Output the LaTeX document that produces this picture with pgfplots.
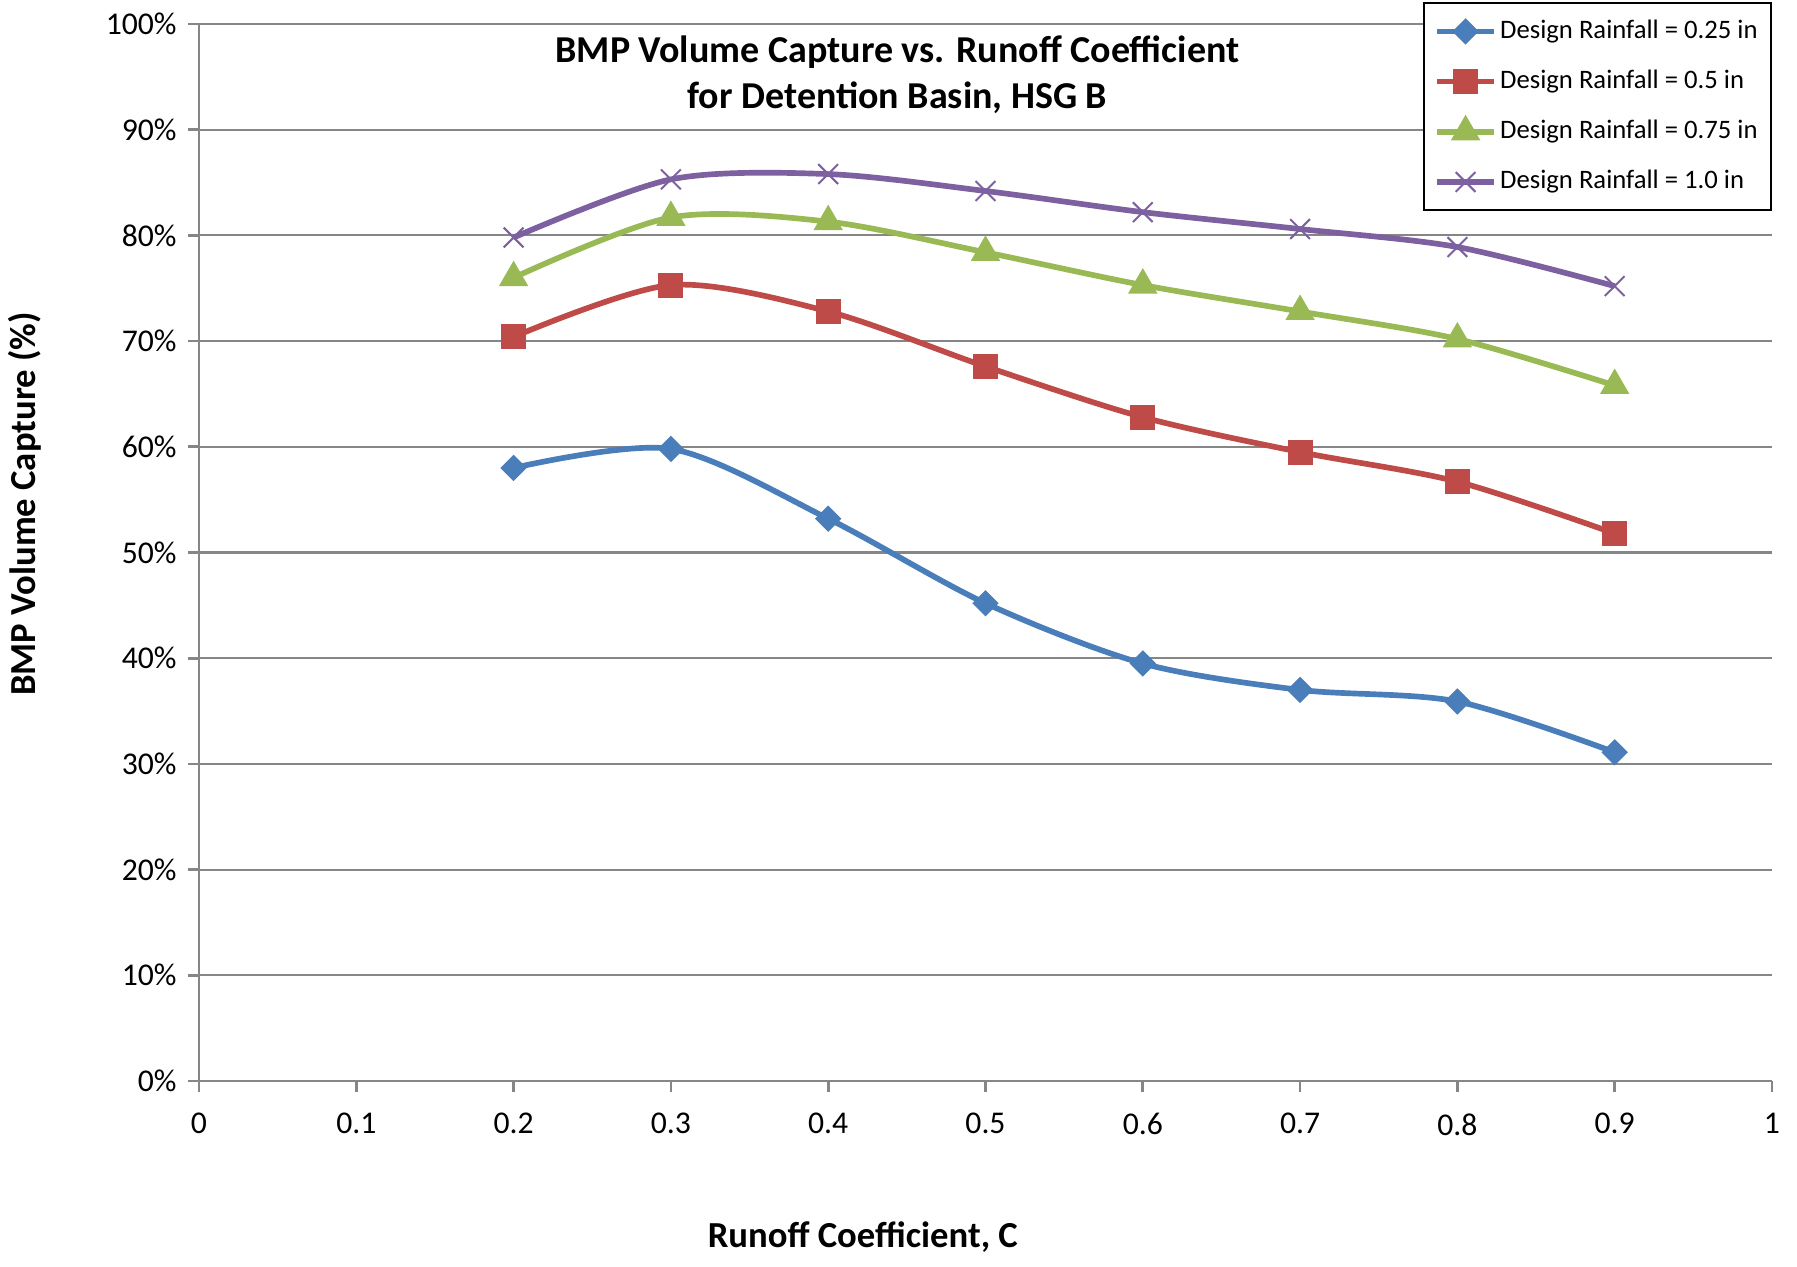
\documentclass[border=0pt]{standalone}
\usepackage{pgfplots}
\pgfplotsset{compat=1.18}
\usepackage{fontspec}
\setmainfont{Carlito}

\definecolor{sBlue}{HTML}{4A7EBB}
\definecolor{sRed}{HTML}{BE4B48}
\definecolor{sGreen}{HTML}{98B954}
\definecolor{sPurple}{HTML}{7D60A0}
\definecolor{axgray}{HTML}{868686}

\begin{document}
\begin{tikzpicture}
\useasboundingbox (-59.7pt,-55.8pt) rectangle (479.4pt,324.3pt);
\begin{axis}[
  at={(0,0)}, anchor=south west,
  scale only axis, width=471.9pt, height=317.1pt,
  xmin=0, xmax=1, ymin=0, ymax=100,
  xtick={0,0.1,0.2,0.3,0.4,0.5,0.6,0.7,0.8,0.9,1},
  xticklabels={0,0.1,0.2,0.3,0.4,0.5,0.6,0.7,0.8,0.9,1},
  ytick={0,10,20,30,40,50,60,70,80,90,100},
  yticklabel={\pgfmathprintnumber{\tick}\%},
  /pgf/number format/assume math mode=true,
  axis x line*=bottom, axis y line*=left,
  axis line style={-, draw=axgray, line width=0.8pt},
  tick align=outside, major tick length=3.2pt,
  tick style={draw=axgray, line width=0.8pt},
  ymajorgrids, grid style={draw=axgray, line width=0.65pt},
  ticklabel style={font=\fontsize{9.5}{11}\selectfont},
  xticklabel shift=3pt,
  title={BMP Volume Capture vs. Runoff Coefficient\\for Detention Basin, HSG B},
  title style={at={(axis description cs:0.444,0.955)}, anchor=center, align=center,
    yshift=-6.9pt, font=\bfseries\fontsize{11.4}{13.8}\selectfont},
  xlabel={Runoff Coefficient, C},
  xlabel style={at={(axis description cs:0.422,-0.148)}, anchor=center,
    font=\bfseries\fontsize{11}{13}\selectfont},
  ylabel={BMP Volume Capture (\%)},
  ylabel style={at={(axis description cs:-0.1106,0.546)}, anchor=center,
    font=\bfseries\fontsize{11}{13}\selectfont},
  legend style={at={(axis description cs:1,1.0208)}, anchor=north east,
    draw=black, line width=0.6pt, font=\fontsize{8}{9.6}\selectfont,
    row sep=4pt, inner sep=3pt, nodes={inner xsep=1pt}},
  legend cell align=left,
  every axis plot/.append style={line width=1.7pt, smooth},
]
\addplot[color=sBlue, mark=square*, mark size=1.95pt, mark options={rotate=45, solid}]
  coordinates {(0.2,58.0) (0.3,59.8) (0.4,53.2) (0.5,45.2) (0.6,39.5) (0.7,37.0) (0.8,35.9) (0.9,31.1)};
\addlegendentry{Design Rainfall = 0.25 in}
\addplot[color=sRed, mark=square*, mark size=2.9pt]
  coordinates {(0.2,70.4) (0.3,75.3) (0.4,72.8) (0.5,67.6) (0.6,62.8) (0.7,59.5) (0.8,56.7) (0.9,51.8)};
\addlegendentry{Design Rainfall = 0.5 in}
\addplot[color=sGreen, mark=triangle*, mark size=3.4pt]
  coordinates {(0.2,76.0) (0.3,81.7) (0.4,81.3) (0.5,78.4) (0.6,75.3) (0.7,72.8) (0.8,70.2) (0.9,65.8)};
\addlegendentry{Design Rainfall = 0.75 in}
\addplot[color=sPurple, mark=x, mark size=4.2pt, mark options={line width=0.6pt}]
  coordinates {(0.2,79.8) (0.3,85.3) (0.4,85.8) (0.5,84.2) (0.6,82.2) (0.7,80.6) (0.8,78.9) (0.9,75.2)};
\addlegendentry{Design Rainfall = 1.0 in}
\end{axis}
\end{tikzpicture}
\end{document}
